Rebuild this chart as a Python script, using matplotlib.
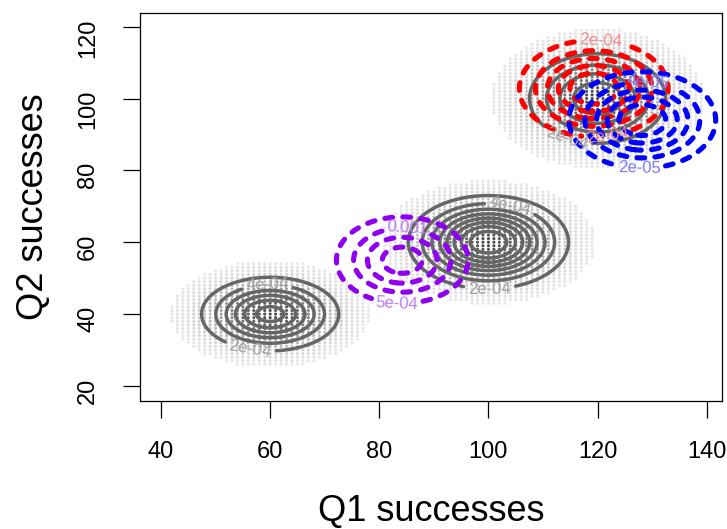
import numpy as np
import matplotlib.pyplot as plt

plt.rcParams['font.family'] = ['Liberation Sans', 'DejaVu Sans']

# grey clusters: centre, spread and weight of each group of observed points
grey_mx = [60, 100, 120]
grey_my = [40, 60, 100]
grey_sx = [6.5, 7.0, 7.0]
grey_sy = [5.3, 6.2, 7.0]
grey_w = [0.28, 0.49, 0.30]
grey_levels = [2e-4, 4e-4, 6e-4, 8e-4, 1e-3, 1.2e-3, 1.4e-3, 1.6e-3, 1.8e-3, 2e-3]

# coloured densities: centre, spread, peak height, contour levels
purple_c = [84.2, 55.0, 6.9, 6.9, 2.3e-3]
purple_levels = [5e-4, 1e-3, 1.5e-3, 2e-3]
red_c = [119.3, 102.8, 7.2, 7.1, 1.2e-3]
red_levels = [2e-4, 4e-4, 6e-4, 8e-4, 1e-3]
blue_c = [128.2, 94.0, 7.1, 7.1, 1.2e-4]
blue_levels = [2e-5, 4e-5, 6e-5, 8e-5, 1e-4]

xticks = [40, 60, 80, 100, 120, 140]
yticks = [20, 40, 60, 80, 100, 120]


def rfmt(v):
    e = np.floor(np.log10(v))
    m = v / 10 ** e
    fixed = ('%.10f' % v).rstrip('0').rstrip('.')
    sci = '%.0e' % v if abs(m - round(m)) < 1e-9 else '%.1e' % v
    return fixed if len(fixed) <= len(sci) else sci


def gauss(X, Y, mx, my, sx, sy):
    return np.exp(-0.5 * (((X - mx) / sx) ** 2 + ((Y - my) / sy) ** 2))


fig = plt.figure(figsize=(7.27, 5.29), dpi=100)
ax = fig.add_axes([140 / 727, 1 - 401 / 529, 582 / 727, 388.3 / 529])

# observed counts sit on the integer lattice
px, py, pa = [], [], []
for mx, my, sx, sy in zip(grey_mx, grey_my, grey_sx, grey_sy):
    for i in range(int(mx - 3.2 * sx), int(mx + 3.2 * sx) + 1):
        for j in range(int(my - 3.2 * sy), int(my + 3.2 * sy) + 1):
            d2 = ((i - mx) / sx) ** 2 + ((j - my) / sy) ** 2
            if d2 < 2.8 ** 2:
                px.append(i)
                py.append(j)
                pa.append(0.08 + 0.8 * np.exp(-d2 / 2.5))
cols = np.zeros((len(px), 4))
cols[:, :3] = 0.2
cols[:, 3] = pa
ax.scatter(px, py, s=5, c=cols, linewidths=0, zorder=1)

gx = np.arange(30, 150, 0.2)
gy = np.arange(10, 130, 0.2)
X, Y = np.meshgrid(gx, gy)

Zg = np.zeros_like(X)
for mx, my, sx, sy, w in zip(grey_mx, grey_my, grey_sx, grey_sy, grey_w):
    Zg += w * gauss(X, Y, mx, my, sx, sy) / (2 * np.pi * sx * sy)
cs = ax.contour(X, Y, Zg, levels=grey_levels, colors='#666666', linewidths=2.5, zorder=2)
cs.set_capstyle('round')
ax.clabel(cs, levels=[2e-4, 4e-4], inline=True, inline_spacing=2, fontsize=12, fmt=rfmt,
          colors='#a0a0a0',
          manual=[(56.4, 30.7), (59.5, 46.7), (100.2, 47.5), (103.8, 68.5), (114.6, 89.9)])

dash = [(0, (1.5, 2.0))]
for c, levels, col, lcol, pos in [
        (purple_c, purple_levels, '#8f00f0', '#b87af5', [(85.0, 61.5), (83.3, 44.2)]),
        (red_c, red_levels, '#ff0000', '#f08a8a', [(120.5, 116.5), (121.9, 89.3)]),
        (blue_c, blue_levels, '#0000ff', '#7878ff', [(129.2, 101.6), (127.7, 81.3)])]:
    Z = c[4] * gauss(X, Y, c[0], c[1], c[2], c[3])
    cc = ax.contour(X, Y, Z, levels=levels, colors=col, linewidths=3.7, linestyles=dash, zorder=3)
    cc.set_capstyle('round')
    ax.clabel(cc, levels=levels[:2], inline=True, inline_spacing=2, fontsize=12, fmt=rfmt,
              colors=lcol, manual=pos)

ax.set_xlim(36.15, 142.8)
ax.set_ylim(15.8, 123.9)
ax.set_xticks(xticks)
ax.set_yticks(yticks)
ax.tick_params(direction='out', length=12.5, width=0.9, labelsize=17, pad=16)
ax.tick_params(axis='y', labelrotation=90, pad=17)
for s in ax.spines.values():
    s.set_linewidth(0.9)

ax.set_xlabel('Q1 successes', fontsize=26, va='baseline')
ax.xaxis.set_label_coords(0.5, -0.309)
ax.set_ylabel('Q2 successes', fontsize=26, va='baseline')
ax.yaxis.set_label_coords(-0.1675, 0.5)

fig.savefig('out.png', dpi=100)
